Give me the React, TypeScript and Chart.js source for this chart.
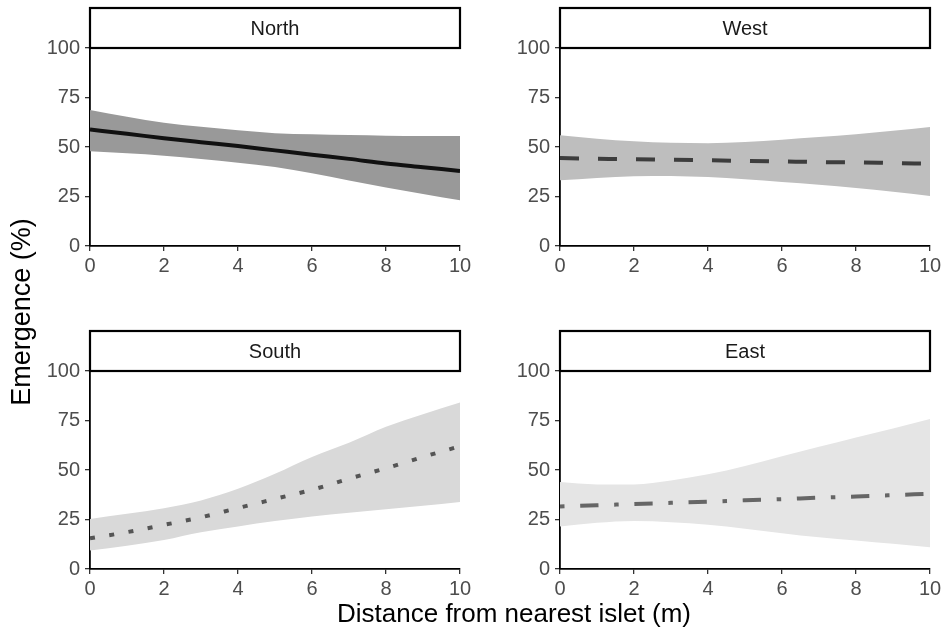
import React, { useEffect, useRef } from "react";
import { Chart, registerables } from "chart.js";

Chart.register(...registerables);

// ---------- data ----------
const distance = [0, 1, 2, 3, 4, 5, 6, 7, 8, 9, 10];
const xTicks = [0, 2, 4, 6, 8, 10];
const yTicks = [0, 25, 50, 75, 100];

const northFit = [58.8, 56.7, 54.4, 52.4, 50.5, 48.3, 46.1, 44.0, 41.7, 39.8, 37.9];
const northUpper = [68.7, 65.3, 62.3, 60.2, 58.4, 57.0, 56.4, 56.0, 55.7, 55.6, 55.6];
const northLower = [47.8, 46.8, 45.6, 44.0, 42.1, 39.9, 36.7, 33.1, 29.5, 26.3, 23.1];

const westFit = [44.4, 44.1, 43.8, 43.6, 43.3, 43.0, 42.7, 42.4, 42.2, 41.9, 41.6];
const westUpper = [55.9, 54.2, 52.9, 52.1, 51.9, 52.5, 53.7, 55.0, 56.4, 58.2, 60.1];
const westLower = [33.2, 34.4, 35.2, 35.4, 34.8, 33.7, 32.3, 30.9, 29.3, 27.4, 25.3];

const southFit = [15.5, 18.6, 22.3, 26.1, 30.8, 35.4, 40.0, 45.6, 50.9, 56.6, 62.0];
const southUpper = [25.3, 27.9, 30.7, 34.6, 40.5, 48.1, 56.6, 63.7, 71.8, 78.2, 84.1];
const southLower = [9.3, 11.8, 14.7, 18.6, 21.5, 24.2, 26.5, 28.4, 30.2, 31.9, 33.8];

const eastFit = [31.6, 32.2, 32.8, 33.4, 34.0, 34.7, 35.3, 36.0, 36.6, 37.3, 38.0];
const eastUpper = [43.9, 42.7, 42.7, 44.7, 47.8, 52.0, 56.9, 61.7, 66.4, 71.0, 75.7];
const eastLower = [21.5, 23.3, 24.2, 23.6, 22.3, 20.3, 18.1, 16.0, 14.4, 12.7, 11.0];

const xTitle = "Distance from nearest islet (m)";
const yTitle = "Emergence (%)";

// ---------- layout / style ----------
const FONT = '"Liberation Sans", Arial, Helvetica, sans-serif';
const PLOT_W = 370;
const PLOT_H = 198;
const Y_AXIS_W = 90;
const X_AXIS_H = 35;
const PAD_TOP = 48;
const PAD_RIGHT = 16;
const PAD_BOTTOM = 5;
const STRIP_H = 40;

type Panel = {
  label: string;
  fit: number[];
  upper: number[];
  lower: number[];
  lineColor: string;
  ribbonColor: string;
  dash: number[];
  plotLeft: number;
  plotTop: number;
};

const panels: Panel[] = [
  { label: "North", fit: northFit, upper: northUpper, lower: northLower, lineColor: "#111111", ribbonColor: "#999999", dash: [], plotLeft: 90, plotTop: 48 },
  { label: "West", fit: westFit, upper: westUpper, lower: westLower, lineColor: "#3d3d3d", ribbonColor: "#bebebe", dash: [19, 19], plotLeft: 560, plotTop: 48 },
  { label: "South", fit: southFit, upper: southUpper, lower: southLower, lineColor: "#555555", ribbonColor: "#d9d9d9", dash: [5, 14.5], plotLeft: 90, plotTop: 371 },
  { label: "East", fit: eastFit, upper: eastUpper, lower: eastLower, lineColor: "#666666", ribbonColor: "#e5e5e5", dash: [4.5, 15.7, 18.3, 15.7], plotLeft: 560, plotTop: 371 },
];

const stripPlugin = {
  id: "strip",
  afterDraw(chart: any, _args: any, opts: any) {
    const { ctx, chartArea } = chart;
    const { left, right, top } = chartArea;
    ctx.save();
    ctx.fillStyle = "#ffffff";
    ctx.fillRect(left, top - STRIP_H, right - left, STRIP_H);
    ctx.strokeStyle = "#000000";
    ctx.lineWidth = 2.2;
    ctx.strokeRect(left, top - STRIP_H, right - left, STRIP_H);
    ctx.fillStyle = "#1a1a1a";
    ctx.font = `20px ${FONT}`;
    ctx.textAlign = "center";
    ctx.textBaseline = "middle";
    ctx.fillText(opts.label, (left + right) / 2, top - STRIP_H / 2 + 1);
    ctx.restore();
  },
};

function toPoints(vals: number[]) {
  return distance.map((x, i) => ({ x, y: vals[i] }));
}

function PanelChart({ p }: { p: Panel }) {
  const ref = useRef<HTMLCanvasElement | null>(null);
  useEffect(() => {
    if (!ref.current) return;
    const tickFont = { family: FONT, size: 20 };
    const chart = new Chart(ref.current, {
      type: "line",
      data: {
        datasets: [
          {
            data: toPoints(p.fit),
            borderColor: p.lineColor,
            borderWidth: 4,
            borderDash: p.dash,
            borderCapStyle: "butt",
            pointRadius: 0,
            fill: false,
            cubicInterpolationMode: "monotone",
          },
          {
            data: toPoints(p.upper),
            borderWidth: 0,
            borderColor: "rgba(0,0,0,0)",
            backgroundColor: p.ribbonColor,
            pointRadius: 0,
            fill: "+1",
            cubicInterpolationMode: "monotone",
          },
          {
            data: toPoints(p.lower),
            borderWidth: 0,
            borderColor: "rgba(0,0,0,0)",
            pointRadius: 0,
            fill: false,
            cubicInterpolationMode: "monotone",
          },
        ],
      } as any,
      options: {
        responsive: false,
        animation: false,
        devicePixelRatio: 1,
        layout: { padding: { left: 0, top: PAD_TOP, right: PAD_RIGHT, bottom: PAD_BOTTOM } },
        plugins: {
          legend: { display: false },
          tooltip: { enabled: false },
          strip: { label: p.label },
        } as any,
        scales: {
          x: {
            type: "linear",
            min: 0,
            max: 10,
            afterBuildTicks: (s: any) => {
              s.ticks = xTicks.map((value) => ({ value }));
            },
            afterFit: (s: any) => {
              s.height = X_AXIS_H;
            },
            grid: { display: true, drawOnChartArea: false, drawTicks: true, tickLength: 5, color: "#333333", lineWidth: 1.3 },
            border: { display: true, color: "#000000", width: 1.8 },
            ticks: { font: tickFont, color: "#4d4d4d", padding: 3, maxRotation: 0, autoSkip: false },
          },
          y: {
            type: "linear",
            min: 0,
            max: 100,
            afterBuildTicks: (s: any) => {
              s.ticks = yTicks.map((value) => ({ value }));
            },
            afterFit: (s: any) => {
              s.width = Y_AXIS_W;
            },
            grid: { display: true, drawOnChartArea: false, drawTicks: true, tickLength: 5, color: "#333333", lineWidth: 1.3 },
            border: { display: true, color: "#000000", width: 1.8 },
            ticks: { font: tickFont, color: "#4d4d4d", padding: 5, autoSkip: false },
          },
        },
      } as any,
      plugins: [stripPlugin],
    });
    return () => chart.destroy();
  }, [p]);

  const w = Y_AXIS_W + PLOT_W + PAD_RIGHT;
  const h = PAD_TOP + PLOT_H + X_AXIS_H + PAD_BOTTOM;
  return (
    <canvas
      ref={ref}
      width={w}
      height={h}
      style={{ position: "absolute", left: p.plotLeft - Y_AXIS_W, top: p.plotTop - PAD_TOP, width: w, height: h }}
    />
  );
}

export default function App() {
  return (
    <div style={{ position: "absolute", left: 0, top: 0, width: 948, height: 632, background: "#ffffff", overflow: "hidden" }}>
      {panels.map((p) => (
        <PanelChart key={p.label} p={p} />
      ))}
      <div
        style={{
          position: "absolute",
          left: 21 - 150,
          top: 312 - 15,
          width: 300,
          height: 30,
          lineHeight: "30px",
          textAlign: "center",
          fontFamily: FONT,
          fontSize: 27,
          color: "#000",
          transform: "rotate(-90deg)",
          whiteSpace: "nowrap",
        }}
      >
        {yTitle}
      </div>
      <div
        style={{
          position: "absolute",
          left: 514 - 250,
          top: 598,
          width: 500,
          height: 30,
          lineHeight: "30px",
          textAlign: "center",
          fontFamily: FONT,
          fontSize: 26,
          color: "#000",
          whiteSpace: "nowrap",
        }}
      >
        {xTitle}
      </div>
    </div>
  );
}
